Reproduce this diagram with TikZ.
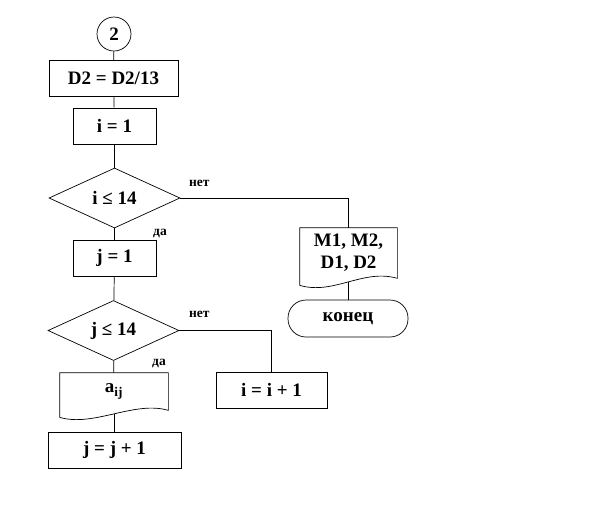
\documentclass[tikz,border=0pt]{standalone}
\usepackage{fontspec}
\setmainfont{Liberation Serif}
\usetikzlibrary{shapes.geometric}
\tikzset{
  every node/.style={font=\fontsize{19}{22}\selectfont\bfseries},
  box/.style={draw, rectangle, inner sep=0pt, minimum width=#1, minimum height=36pt},
  dec/.style={draw, diamond, aspect=2.2, inner sep=1pt, minimum width=131pt, minimum height=60pt},
  docnode/.style={rectangle, inner sep=0pt, minimum width=#1},
  term/.style={draw, rectangle, rounded corners=18pt, minimum width=120pt, minimum height=37pt},
  lbl/.style={font=\fontsize{13.5}{15}\selectfont\bfseries, inner sep=0pt}
}
\begin{document}
\begin{tikzpicture}[x=1pt, y=-1pt, line width=0.7pt]
            \useasboundingbox (0,0) rectangle (612,528);
            % Blocks
            \node[draw, circle, minimum size=34pt, inner sep=0pt] (circ) at (114,34) {2};
            \node[box=129pt] (d2) at (113.5,78.5) {D2 = D2/13};
            \node[box=83pt] (i1) at (114.5,126) {i = 1};
            \node[dec] (ifi) at (114.5,198) {i ≤ 14};
            \node[box=83pt] (j1) at (114.5,258) {j = 1};
            \node[dec] (ifj) at (113.5,330.5) {j ≤ 14};
            \node[docnode=108pt, minimum height=37pt] (aij) at (114,391.5) {a\textsubscript{ij}};
            \node[box=133pt] (jinc) at (114.5,450) {j = j + 1};
            \node[box=111pt] (iinc) at (271.5,390) {i = i + 1};
            \node[docnode=97pt, minimum height=50pt, align=center] (out) at (348.5,253) {M1, M2,\\ D1, D2};
            \node[term] (fin) at (348,318.5) {конец};
            % Document shapes
            \foreach \n in {aij, out} {
                \draw (\n.north west) -- ([yshift=-7pt]\n.south west)
                    .. controls +(34,10) and +(-34,-10) .. coordinate[pos=0.5] (\n-w) (\n.south east)
                    -- (\n.north east) -- cycle;
            }
            % Connectors
            \foreach \a/\b in {circ/d2, d2/i1, i1/ifi, ifi/j1, j1/ifj, ifj/aij} {
                \draw (\a) -- (\b);
            }
            \draw (aij-w) -- (aij-w |- jinc.north);
            \draw (out-w) -- (out-w |- fin.north);
            \draw (ifi.east) -| (out.north);
            \draw (ifj.east) -| (iinc.north);
            % Labels
            \node[lbl] (n1) at ([xshift=19pt,yshift=15pt]ifi.east) {нет};
            \node[lbl] (y1) at ([xshift=45.5pt,yshift=-5pt]ifi.south) {да};
            \node[lbl] (n2) at ([xshift=20pt,yshift=16pt]ifj.east) {нет};
            \node[lbl] (y2) at ([xshift=45.5pt,yshift=-3pt]ifj.south) {да};
        \end{tikzpicture}
\end{document}
